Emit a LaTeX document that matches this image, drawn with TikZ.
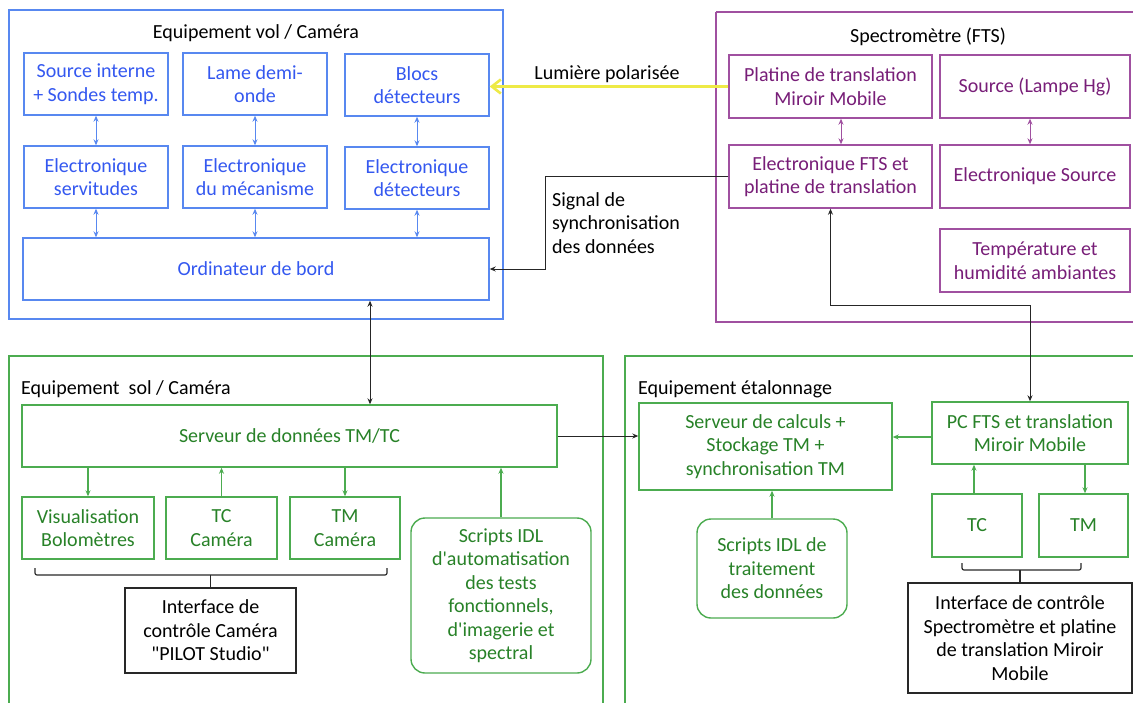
\documentclass[tikz,border=0pt]{standalone}
\usepackage{fontspec}
\setmainfont{Carlito}[Ligatures=TeXOff]
\usetikzlibrary{arrows.meta,calc}
\definecolor{bluebd}{RGB}{88,136,240}
\definecolor{bluetx}{RGB}{52,88,240}
\definecolor{purbd}{RGB}{160,80,160}
\definecolor{purtx}{RGB}{120,30,120}
\definecolor{grnbd}{RGB}{76,172,80}
\definecolor{grntx}{RGB}{40,130,40}
\definecolor{yel}{RGB}{238,234,70}
\definecolor{dark}{RGB}{40,40,40}
\tikzset{
  x=1pt,y=-1pt,
  every node/.style={font=\fontsize{20}{23.5}\selectfont, align=center, inner sep=0pt},
  bbox/.style={draw=bluebd, line width=1.4pt, text=bluetx, minimum width=144pt, minimum height=62pt},
  pbox/.style={draw=purbd, line width=1.4pt, text=purtx, minimum height=63pt},
  gbox/.style={draw=grnbd, line width=1.4pt, text=grntx, minimum height=62pt},
  grbox/.style={draw=grnbd, line width=1.4pt, text=grntx, rounded corners=14pt},
  kbox/.style={draw=dark, line width=1.4pt, text=black},
  tip/.style={-{Stealth[length=6pt,width=5pt]}},
  dtip/.style={{Stealth[length=6pt,width=5pt]}-{Stealth[length=6pt,width=5pt]}},
}
\begin{document}
\begin{tikzpicture}
\useasboundingbox (0,0) rectangle (1133,702);
\fill[white] (0,0) rectangle (1133,702);
% outer frames
\node[draw=bluebd, line width=1.4pt, minimum width=494pt, minimum height=309pt] (vol) at (256,164.5) {};
\draw[draw=purbd, line width=1.4pt] (716,12) -- (1140,12) (716,12) -- (716,322) -- (1140,322);
\draw[draw=grnbd, line width=1.4pt] (9,712) -- (9,356) -- (603,356) -- (603,712);
\draw[draw=grnbd, line width=1.4pt] (625,712) -- (625,356) -- (1140,356);
% titles
\node (tvol) at (256,33) {Equipement vol / Caméra};
\node (tspec) at (928,37) {Spectromètre (FTS)};
\node[anchor=west] (tsol) at (21,389) {Equipement \ sol / Caméra};
\node[anchor=west] (tetal) at (638,389) {Equipement étalonnage};
% vol boxes
\node[bbox] (src) at (96,84) {Source interne\\+ Sondes temp.};
\node[bbox] (lame) at (255,84) {Lame demi-\\onde};
\node[bbox] (blocs) at (417,85) {Blocs\\détecteurs};
\node[bbox] (eserv) at (96,177) {Electronique\\servitudes};
\node[bbox] (emeca) at (255,177) {Electronique\\du mécanisme};
\node[bbox] (edet) at (417,178) {Electronique\\détecteurs};
\node[bbox, minimum width=466pt] (ordi) at (256,269) {Ordinateur de bord};
\draw[dtip, bluebd, line width=1pt] (src.south) -- (eserv.north);
\draw[dtip, bluebd, line width=1pt] (lame.south) -- (emeca.north);
\draw[dtip, bluebd, line width=1pt] (blocs.south) -- (edet.north);
\draw[dtip, bluebd, line width=1pt] (eserv.south) -- (eserv.south |- ordi.north);
\draw[dtip, bluebd, line width=1pt] (emeca.south) -- (emeca.south |- ordi.north);
\draw[dtip, bluebd, line width=1pt] (edet.south) -- (edet.south |- ordi.north);
% spectro boxes
\node[pbox, minimum width=203pt] (plat) at (830.5,86.5) {Platine de translation\\Miroir Mobile};
\node[pbox, minimum width=190pt] (shg) at (1035,86.5) {Source (Lampe Hg)};
\node[pbox, minimum width=203pt] (efts) at (830.5,176.5) {Electronique FTS et\\platine de translation};
\node[pbox, minimum width=190pt] (esrc) at (1035,176.5) {Electronique Source};
\node[pbox, minimum width=190pt] (temp) at (1035,260.5) {Température et\\humidité ambiantes};
\coordinate (px) at (841,0);
\coordinate (sx) at (1030,0);
\draw[dtip, purbd, line width=1pt] (plat.south -| px) -- (efts.north -| px);
\draw[dtip, purbd, line width=1pt] (shg.south -| sx) -- (esrc.north -| sx);
% yellow light
\draw[-{Straight Barb[length=9pt,width=14pt]}, yel, line width=2.6pt] (plat.west) -- (blocs.east |- plat.west);
\node (lum) at (607,74) {Lumière polarisée};
% signal
\coordinate (sig) at (545,0);
\draw[tip, black!85, line width=1pt] (efts.west) -| (sig |- ordi.east) -- (ordi.east);
\node[anchor=west, align=left] (sigl) at (552,223) {Signal de\\synchronisation\\des données};
% sol boxes
\node[gbox, minimum width=535pt] (serv) at (289.5,436) {Serveur de données TM/TC};
\node[gbox, minimum width=132pt] (visu) at (88,528) {Visualisation\\Bolomètres};
\node[gbox, minimum width=111pt] (tcc) at (221.5,528) {TC\\Caméra};
\node[gbox, minimum width=110pt] (tmc) at (345,528) {TM\\Caméra};
\node[grbox, minimum width=180pt, minimum height=155pt] (scr1) at (501,595.5) {Scripts IDL\\d'automatisation\\des tests\\fonctionnels,\\d'imagerie et\\spectral};
\node[kbox, minimum width=171pt, minimum height=85pt] (int1) at (210.5,630.5) {Interface de\\contrôle Caméra\\"PILOT Studio"};
\draw[tip, grnbd, line width=1.2pt] (serv.south -| visu.north) -- (visu.north);
\draw[tip, grnbd, line width=1.2pt] (tcc.north) -- (serv.south -| tcc.north);
\draw[tip, grnbd, line width=1.2pt] (serv.south -| tmc.north) -- (tmc.north);
\draw[tip, grnbd, line width=1.2pt] (scr1.north) -- (serv.south -| scr1.north);
\draw[dark, line width=1.2pt, rounded corners=2pt] (35,568) -- (35,575) -- (387,575) -- (387,568);
\draw[dark, line width=1.2pt] (int1.north |- 0,575) -- (int1.north);
% link ordi - serveur
\coordinate (ax) at (370,0);
\draw[dtip, black!85, line width=1pt] (ordi.south -| ax) -- (serv.north -| ax);
% etalonnage boxes
\node[gbox, minimum width=253pt, minimum height=87pt] (calc) at (765.5,446.5) {Serveur de calculs +\\Stockage TM +\\synchronisation TM};
\node[gbox, minimum width=196pt] (pc) at (1030,433) {PC FTS et translation\\Miroir Mobile};
\node[gbox, minimum width=90pt, minimum height=63pt] (tc2) at (977,525.5) {TC};
\node[gbox, minimum width=89pt, minimum height=63pt] (tm2) at (1083.5,525.5) {TM};
\node[grbox, minimum width=150pt, minimum height=99pt] (scr2) at (772,568.5) {Scripts IDL de\\traitement\\des données};
\node[kbox, minimum width=224pt, minimum height=110pt] (int2) at (1020,638) {Interface de contrôle\\Spectromètre et platine\\de translation Miroir\\Mobile};
\draw[tip, black!85, line width=1pt] (serv.east) -- (calc.west |- serv.east);
\draw[tip, grnbd, line width=1.2pt] (pc.west |- 0,437) -- (calc.east |- 0,437);
\coordinate (tcx) at (974,0);
\coordinate (tmx) at (1085,0);
\draw[tip, grnbd, line width=1.2pt] (tc2.north -| tcx) -- (pc.south -| tcx);
\draw[tip, grnbd, line width=1.2pt] (pc.south -| tmx) -- (tm2.north -| tmx);
\draw[tip, grnbd, line width=1.2pt] (scr2.north) -- (calc.south -| scr2.north);
\draw[dark, line width=1.2pt, rounded corners=2pt] (962,563) -- (962,570) -- (1081,570) -- (1081,563);
\draw[dark, line width=1.2pt] (int2.north |- 0,570) -- (int2.north);
% FTS link
\draw[dtip, black!85, line width=1pt] (efts.south) -- (efts.south |- 0,305) -| (pc.north -| sx);
\end{tikzpicture}
\end{document}
